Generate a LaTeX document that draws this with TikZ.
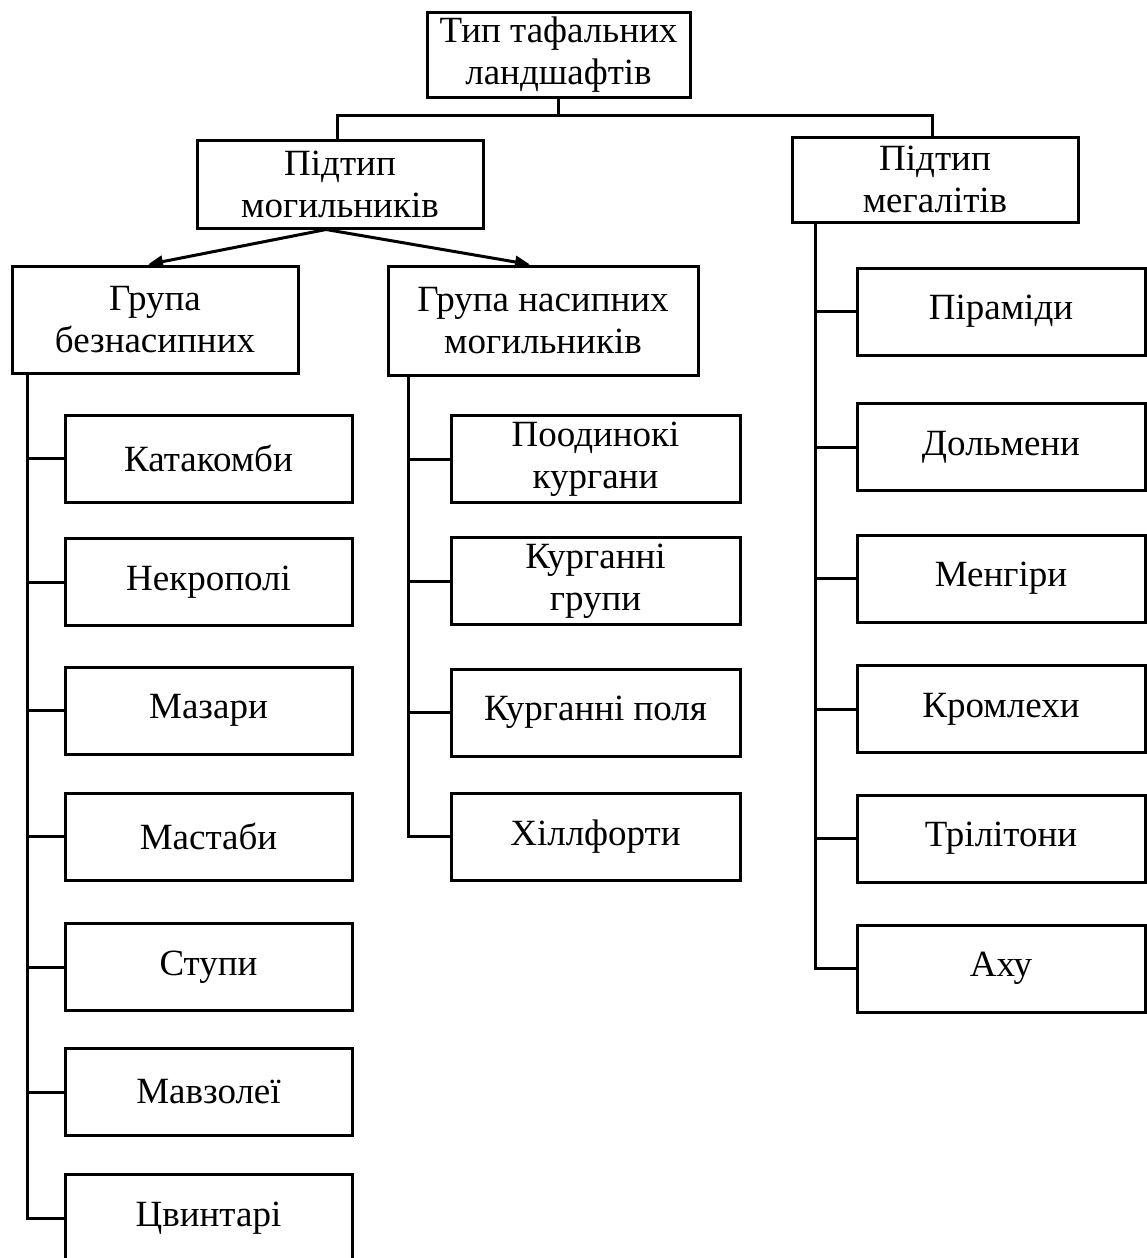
\documentclass[tikz,border=0pt]{standalone}
\usepackage{fontspec}
\setmainfont{Liberation Serif}
\usetikzlibrary{arrows.meta,calc}
\begin{document}
\begin{tikzpicture}[x=1pt,y=-1pt,
  box/.style={draw,line width=3pt,align=center,inner sep=0pt,
    font=\fontsize{37}{42}\selectfont},
  conn/.style={line width=3pt},
  arr/.style={line width=3pt,-{Triangle[length=15pt,width=12pt]}}]
\useasboundingbox (0,0) rectangle (1147,1258);
% top levels
\node[box,minimum width=263pt,minimum height=85pt] (top) at (558.5,54.5) {Тип тафальних\\ландшафтів};
\node[box,minimum width=286pt,minimum height=88pt] (pm) at (340,184) {Підтип\\могильників};
\node[box,minimum width=286pt,minimum height=85pt] (pg) at (935,179.5) {Підтип\\мегалітів};
\node[box,minimum width=286pt,minimum height=107pt] (gb) at (155,319.5) {Група\\безнасипних};
\node[box,minimum width=310pt,minimum height=109pt] (gn) at (543,320.5) {Група насипних\\могильників};
% left children
\tikzset{lc/.style={box,minimum width=287pt,minimum height=87pt}}
\node[lc] (l1) at (208.5,458.5) {Катакомби};
\node[lc] (l2) at (208.5,582) {Некрополі};
\node[lc] (l3) at (208.5,710.5) {Мазари};
\node[lc] (l4) at (208.5,836.5) {Мастаби};
\node[lc] (l5) at (208.5,967) {Ступи};
\node[lc] (l6) at (208.5,1092) {Мавзолеї};
\node[lc,minimum height=88pt] (l7) at (208.5,1218) {Цвинтарі};
% middle children
\tikzset{mc/.style={box,minimum width=289pt,minimum height=87pt}}
\node[mc] (m1) at (595.5,459) {Поодинокі\\кургани};
\node[mc] (m2) at (595.5,581) {Курганні\\групи};
\node[mc] (m3) at (595.5,712.5) {Курганні поля};
\node[mc] (m4) at (595.5,836.5) {Хіллфорти};
% right children
\tikzset{rc/.style={box,minimum width=288pt,minimum height=87pt}}
\node[rc] (r1) at (1001,311.5) {Піраміди};
\node[rc] (r2) at (1001,447) {Дольмени};
\node[rc] (r3) at (1001,578.5) {Менгіри};
\node[rc] (r4) at (1001,709) {Кромлехи};
\node[rc] (r5) at (1001,838.5) {Трілітони};
\node[rc] (r6) at (1001,968.5) {Аху};
% top connectors
\coordinate (j) at (558.5,115);
\draw[conn] (top.south) -- (j);
\draw[conn] (j) -| ([xshift=-3pt]pm.north);
\draw[conn] (j) -| ([xshift=-3pt]pg.north);
% arrows
\draw[arr] ([xshift=-14pt]pm.south) -- ([xshift=-7pt]gb.north);
\draw[arr] ([xshift=-14pt]pm.south) -- ([xshift=-13pt]gn.north);
% spines
\coordinate (sl) at ([xshift=17pt]gb.south west);
\coordinate (sm) at ([xshift=22pt]gn.south west);
\coordinate (sr) at ([xshift=25pt]pg.south west);
\draw[conn] (sl) |- (l7.west);
\foreach \n in {l1,l2,l3,l4,l5,l6} \draw[conn] (\n.west) -- (\n.west -| sl);
\draw[conn] (sm) |- (m4.west);
\foreach \n in {m1,m2,m3} \draw[conn] (\n.west) -- (\n.west -| sm);
\draw[conn] (sr) |- (r6.west);
\foreach \n in {r1,r2,r3,r4,r5} \draw[conn] (\n.west) -- (\n.west -| sr);
\end{tikzpicture}
\end{document}
